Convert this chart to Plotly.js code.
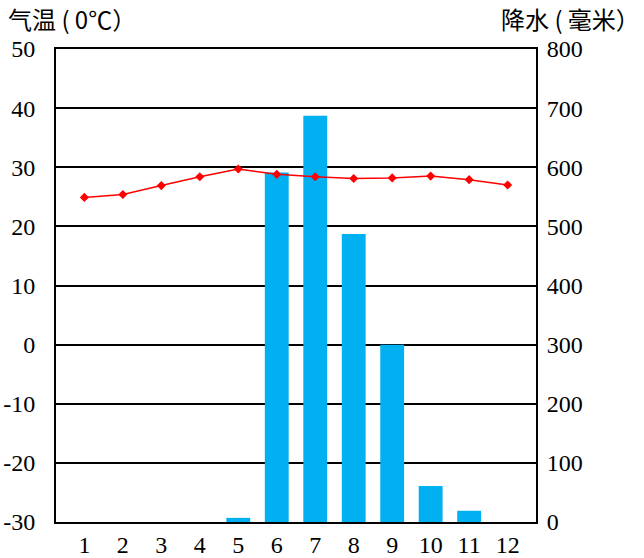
<!DOCTYPE html>
<html><head><meta charset="utf-8">
<script src="https://cdn.plot.ly/plotly-3.0.1.min.js"></script>
<style>
body{margin:0;background:#fff}#c{width:644px;height:558px}
#c .xtick text, #c .ytick text, #c .y2tick text{font-family:"Liberation Serif","Times New Roman","DejaVu Serif",serif !important;}
</style>
</head><body><div id="c"></div>
<script>
var months = ['1','2','3','4','5','6','7','8','9','10','11','12'];
var precipitation = [0, 0, 0, 0, 7, 591, 687, 487, 300, 61, 19, 0];
var temperature = [24.9, 25.4, 26.9, 28.4, 29.7, 28.8, 28.4, 28.1, 28.2, 28.5, 27.9, 27.0];
var tempTicks = [-30, -20, -10, 0, 10, 20, 30, 40, 50];
var precTicks = [0, 100, 200, 300, 400, 500, 600, 700, 800];

var serif = "Liberation Serif";
var data = [
  {type:'bar', x: months, y: precipitation, yaxis:'y', marker:{color:'#00b0f0'}, width:0.62, hoverinfo:'none'},
  {type:'scatter', mode:'lines+markers', x: months, y: temperature, yaxis:'y2',
   line:{color:'#ff0000', width:1.5}, marker:{symbol:'diamond', size:7, color:'#ff0000'}, hoverinfo:'none'}
];
var layout = {
  width:644, height:558, showlegend:false,
  paper_bgcolor:'#fff', plot_bgcolor:'#fff',
  margin:{l:56, r:108, t:49, b:36},
  font:{family:serif, size:24, color:'#000'},
  xaxis:{type:'category', showline:true, linecolor:'#000', linewidth:2, mirror:true,
         showgrid:false, ticks:'', tickfont:{family:serif, size:24}, ticklabelstandoff:0, fixedrange:true},
  yaxis:{side:'right', range:[0,800], tickvals:precTicks, ticktext:precTicks.map(String),
         showgrid:true, gridcolor:'#000', gridwidth:2, zeroline:false, showline:true, linecolor:'#000', linewidth:2,
         ticks:'', tickfont:{family:serif, size:24}, ticklabelstandoff:4, fixedrange:true},
  yaxis2:{overlaying:'y', side:'left', range:[-30,50], tickvals:tempTicks, ticktext:tempTicks.map(String),
         showgrid:false, zeroline:false, showline:true, linecolor:'#000', linewidth:2,
         ticks:'', tickfont:{family:serif, size:24}, ticklabelstandoff:14, fixedrange:true},
  annotations:[
    {text:'气温 ( 0℃）', xref:'paper', yref:'paper', x:0, y:1.0, xshift:-50, yshift:31, xanchor:'left', yanchor:'middle',
     showarrow:false, font:{family:'Noto Sans CJK SC', size:24, color:'#000'}},
    {text:'降水 ( 毫米）', xref:'paper', yref:'paper', x:1.0, y:1.0, xshift:106, yshift:31, xanchor:'right', yanchor:'middle',
     showarrow:false, font:{family:'Noto Sans CJK SC', size:24, color:'#000'}}
  ]
};
Plotly.newPlot('c', data, layout, {displayModeBar:false, staticPlot:true});
</script></body></html>
